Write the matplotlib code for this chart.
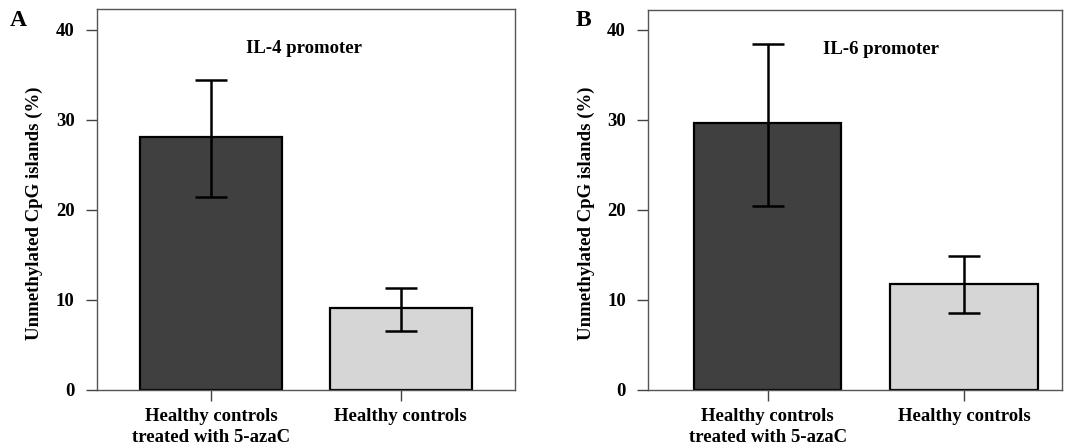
import numpy as np
import matplotlib.pyplot as plt

plt.rcParams['font.family'] = ['Liberation Serif', 'DejaVu Serif']
plt.rcParams['font.weight'] = 'bold'

# 数据
groups = ['Healthy controls\ntreated with 5-azaC', 'Healthy controls']
il4_mean = [28.1, 9.1]
il4_low = [21.4, 6.6]
il4_high = [34.4, 11.3]
il6_mean = [29.7, 11.8]
il6_low = [20.4, 8.5]
il6_high = [38.4, 14.9]
bar_colors = ['#404040', '#d6d6d6']

fig = plt.figure(figsize=(10.75, 4.46), dpi=100)
axA = fig.add_axes([0.0902, 0.1256, 0.3886, 0.8544])
axB = fig.add_axes([0.6028, 0.1256, 0.3852, 0.8520])


def draw(ax, mean, low, high, title, xlim, ylim, title_x):
    x = np.arange(len(mean))
    mean = np.array(mean)
    err = [mean - np.array(low), np.array(high) - mean]
    ax.bar(x, mean, width=0.75, color=bar_colors, edgecolor='black', linewidth=1.6, zorder=2)
    ax.errorbar(x, mean, yerr=err, fmt='none', ecolor='black', elinewidth=1.8,
                capsize=11.5, capthick=1.8, zorder=3)
    ax.set_xlim(*xlim)
    ax.set_ylim(*ylim)
    ax.set_yticks([0, 10, 20, 30, 40])
    ax.set_xticks(x)
    ax.set_xticklabels(groups, fontsize=13.5, fontweight='bold', linespacing=1.3)
    ax.tick_params(axis='y', labelsize=13.5, length=8, width=1, color='#444444', pad=8)
    ax.tick_params(axis='x', length=8, width=1, color='#444444', pad=5)
    for s in ax.spines.values():
        s.set_color('#555555')
        s.set_linewidth(1.0)
    ax.set_ylabel('Unmethylated CpG islands (%)', fontsize=13.5, fontweight='bold')
    ax.yaxis.set_label_coords(-0.129, 0.465)
    ax.text(title_x, 0.895, title, transform=ax.transAxes, ha='center', va='center',
            fontsize=13.5, fontweight='bold')


draw(axA, il4_mean, il4_low, il4_high, 'IL-4 promoter', (-0.6, 1.6), (0, 42.3), 0.495)
draw(axB, il6_mean, il6_low, il6_high, 'IL-6 promoter', (-0.61, 1.5), (0, 42.2), 0.563)

fig.text(18 / 1075, 1 - 20 / 446, 'A', ha='center', va='center', fontsize=17, fontweight='bold')
fig.text(583 / 1075, 1 - 20 / 446, 'B', ha='center', va='center', fontsize=17, fontweight='bold')

fig.savefig('out.png', dpi=100)
